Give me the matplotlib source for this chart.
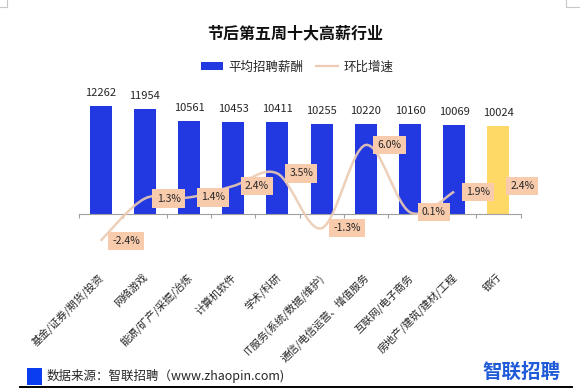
import numpy as np
import matplotlib.pyplot as plt
from matplotlib.path import Path
from matplotlib.patches import PathPatch, Rectangle, Patch, Circle
from matplotlib.lines import Line2D

plt.rcParams['font.family'] = ['Noto Sans CJK SC', 'DejaVu Sans']

# data
industries = ['基金/证券/期货/投资', '网络游戏', '能源/矿产/采掘/冶炼', '计算机软件', '学术/科研',
              'IT服务(系统/数据/维护)', '通信/电信运营、增值服务', '互联网/电子商务',
              '房地产/建筑/建材/工程', '银行']
salary = [12262, 11954, 10561, 10453, 10411, 10255, 10220, 10160, 10069, 10024]
growth = [-2.4, 1.3, 1.4, 2.4, 3.5, -1.3, 6.0, 0.1, 1.9, 2.4]

title = '节后第五周十大高薪行业'
legend_labels = ['平均招聘薪酬', '环比增速']
source = '数据来源：智联招聘（www.zhaopin.com)'

BLUE = '#2238e0'
GOLD = '#ffd966'
LINE = '#eccbb2'
BOX = '#f8cbad'
TXT = '#262626'

W, H = 580, 389
fig = plt.figure(figsize=(W / 100, H / 100), dpi=100)


def fx(px):
    return px / W


def fy(py):
    return 1 - py / H


ax = fig.add_axes([fx(78.5), fy(250), 442 / W, 160 / H])
ax2 = ax.twinx()

x = np.arange(len(industries))
bar_colors = [BLUE] * (len(industries) - 1) + [GOLD]
ax.bar(x, salary, width=0.5, color=bar_colors, zorder=2)
ax.set_xlim(-0.5, len(industries) - 0.5)
ax.set_ylim(-4086, 14074)
ax2.set_ylim(-3.21, 10.82)

for xi, v in zip(x, salary):
    ax.annotate(str(v), (xi, v), xytext=(0, 7.2), textcoords='offset points',
                ha='center', va='baseline', fontsize=8, color=TXT)

# axis styling
for s in ['top', 'left', 'right']:
    ax.spines[s].set_visible(False)
    ax2.spines[s].set_visible(False)
ax2.spines['bottom'].set_visible(False)
ax.spines['bottom'].set_position(('data', 0))
ax.spines['bottom'].set_color('#a0a0a0')
ax.spines['bottom'].set_linewidth(0.8)
ax.set_yticks([])
ax2.set_yticks([])
ax.set_xticks(np.arange(-0.5, len(industries)))
ax.set_xticklabels([])
ax.tick_params(axis='x', direction='out', length=3, width=0.8, color='#a0a0a0')

for xi, name in zip(x, industries):
    ax.annotate(name, (xi, 0), xycoords=('data', 'axes fraction'),
                xytext=(1, -18.5), textcoords='offset points',
                ha='right', va='center', rotation=45, rotation_mode='anchor',
                fontsize=7.6, color=TXT)

# smoothed growth line (drawn for the first nine industries)
n_line = len(industries) - 1
px = list(x[:n_line])
py = growth[:n_line]
verts = [(px[0], py[0])]
codes = [Path.MOVETO]
for i in range(n_line - 1):
    p0 = np.array([px[max(i - 1, 0)], py[max(i - 1, 0)]])
    p1 = np.array([px[i], py[i]])
    p2 = np.array([px[i + 1], py[i + 1]])
    p3 = np.array([px[min(i + 2, n_line - 1)], py[min(i + 2, n_line - 1)]])
    c1 = p1 + (p2 - p0) / 6
    c2 = p2 - (p3 - p1) / 6
    verts += [tuple(c1), tuple(c2), tuple(p2)]
    codes += [Path.CURVE4] * 3
ax2.add_patch(PathPatch(Path(verts, codes), fill=False, edgecolor=LINE,
                        lw=1.8, alpha=0.9, zorder=3))

for xi, g in zip(x, growth):
    ax2.annotate('%.1f%%' % g, (xi, g), xytext=(8.5, 0), textcoords='offset points',
                 ha='left', va='center', fontsize=7.5, color=TXT, zorder=4,
                 bbox=dict(boxstyle='square,pad=0.4', fc=BOX, ec='none'))

# title and legend
fig.text(fx(295), fy(33), title, ha='center', va='center', fontsize=11.5,
         fontweight='bold', color='#111111')
handles = [Patch(facecolor=BLUE), Line2D([], [], color=LINE, lw=1.6)]
fig.legend(handles, legend_labels, loc='center', bbox_to_anchor=(fx(297), fy(67)),
           ncol=2, frameon=False, fontsize=9, handlelength=1.8, handleheight=0.6,
           handletextpad=0.4, columnspacing=1.0, labelcolor=TXT)

# footer
fig.patches.append(Rectangle((fx(27), fy(385)), 15 / W, 17 / H, transform=fig.transFigure,
                             facecolor='#0a3cf0', edgecolor='none'))
fig.text(fx(47), fy(376), source, ha='left', va='center', fontsize=9, color=TXT)
fig.text(fx(521), fy(372), '智联招聘', ha='center', va='center', fontsize=14,
         fontweight='bold', color='#1f5bd8')
fig.patches.append(Circle((fx(495), fy(364)), 2 / W, transform=fig.transFigure,
                          facecolor='#f5c518', edgecolor='none'))
fig.lines.append(Line2D([fx(20), fx(572)], [fy(387), fy(387)], transform=fig.transFigure,
                        color='black', lw=1.4))

# page corner marks
for xs, ys in [([7, 7], [0, 7]), ([0, 7], [7, 7]), ([566, 566], [0, 7]), ([566, 580], [7, 7])]:
    fig.lines.append(Line2D([fx(v) for v in xs], [fy(v) for v in ys],
                            transform=fig.transFigure, color='#c8c8c8', lw=0.8))

fig.savefig('out.png', dpi=100)
